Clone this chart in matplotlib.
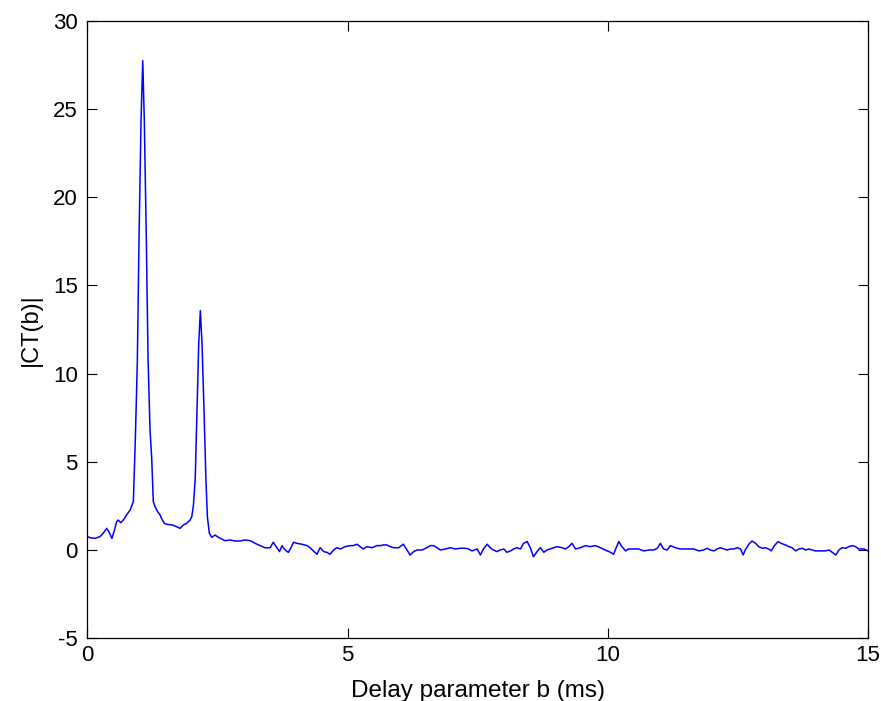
import matplotlib
matplotlib.use("Agg")
import matplotlib.pyplot as plt

# delay parameter b (ms)
b_ms = [0.00, 0.05, 0.14, 0.24, 0.30, 0.37, 0.41, 0.47, 0.52, 0.56, 0.59, 0.64, 0.69,
        0.75, 0.82, 0.881, 0.919, 0.958, 0.990, 1.029, 1.062, 1.092, 1.131, 1.163,
        1.202, 1.235, 1.265, 1.298, 1.350, 1.394, 1.438, 1.477, 1.523, 1.631, 1.715,
        1.779, 1.842, 1.908, 1.971, 2.004, 2.035, 2.071, 2.106, 2.138, 2.169, 2.202,
        2.240, 2.275, 2.304, 2.342, 2.388, 2.452, 2.515,
        2.55, 2.64, 2.74, 2.84, 2.93, 3.03, 3.13, 3.22, 3.32, 3.41, 3.51, 3.57, 3.64,
        3.69, 3.74, 3.77, 3.82, 3.86, 3.91, 3.96, 4.02, 4.12, 4.22, 4.28, 4.34, 4.41,
        4.47, 4.54, 4.60, 4.66, 4.73, 4.79, 4.86, 4.95, 5.05, 5.11, 5.18, 5.24, 5.30,
        5.37, 5.47, 5.56, 5.63, 5.69, 5.75, 5.82, 5.88, 5.98, 6.07, 6.14, 6.20, 6.27,
        6.33, 6.43, 6.52, 6.59, 6.65, 6.72, 6.78, 6.88, 6.97, 7.07, 7.16, 7.26, 7.32,
        7.39, 7.49, 7.55, 7.61, 7.68, 7.74, 7.80, 7.87, 7.93, 8.00, 8.06, 8.13, 8.19,
        8.25, 8.32, 8.38, 8.45, 8.51, 8.57, 8.64, 8.70, 8.77, 8.83, 8.93, 9.02, 9.12,
        9.18, 9.25, 9.31, 9.38, 9.47, 9.57, 9.66, 9.76, 9.86, 9.95, 10.05, 10.11,
        10.16, 10.21, 10.27, 10.34, 10.40, 10.50, 10.59, 10.69, 10.79, 10.88, 10.95,
        11.01, 11.07, 11.14, 11.20, 11.30, 11.39, 11.52, 11.65, 11.75, 11.84, 11.91,
        11.97, 12.04, 12.10, 12.16, 12.23, 12.29, 12.36, 12.42, 12.49, 12.55, 12.60,
        12.64, 12.71, 12.77, 12.84, 12.90, 12.97, 13.03, 13.09, 13.14, 13.20, 13.27,
        13.33, 13.41, 13.48, 13.54, 13.61, 13.67, 13.74, 13.80, 13.86, 13.93, 13.99,
        14.09, 14.18, 14.25, 14.31, 14.38, 14.44, 14.50, 14.57, 14.63, 14.70, 14.76,
        14.82, 14.92, 15.00]

ct_abs = [0.75, 0.69, 0.65, 0.75, 0.94, 1.22, 1.03, 0.65, 1.13, 1.60, 1.69, 1.54, 1.69,
          1.98, 2.26, 2.73, 6.23, 10.67, 17.58, 24.34, 27.75, 24.34, 17.58, 10.96,
          6.80, 5.15, 2.73, 2.45, 2.16, 1.98, 1.69, 1.51, 1.45, 1.41, 1.31,
          1.22, 1.41, 1.51, 1.69, 1.88, 2.50, 4.08, 8.13, 11.72, 13.57, 11.62,
          7.84, 4.06, 1.88, 0.94, 0.71, 0.84, 0.71,
          0.66, 0.52, 0.56, 0.50, 0.50, 0.56, 0.52, 0.37, 0.24, 0.12, 0.12, 0.43, 0.12,
          -0.10, 0.24, 0.09, -0.06, -0.14, 0.12, 0.43, 0.37, 0.32, 0.24, 0.12, -0.06, -0.25,
          0.12, -0.10, -0.14, -0.25, -0.01, 0.12, 0.05, 0.18, 0.24, 0.24, 0.32, 0.18, 0.05,
          0.18, 0.12, 0.24, 0.24, 0.28, 0.28, 0.18, 0.12, 0.12, 0.32, -0.01, -0.29, -0.10,
          -0.01, -0.01, 0.12, 0.24, 0.24, 0.12, -0.01, 0.05, 0.12, 0.05, 0.09, 0.09, 0.05,
          -0.06, 0.05, -0.29, 0.05, 0.32, 0.12, -0.01, -0.10, -0.01, 0.05, -0.14, -0.06, 0.05,
          0.12, 0.05, 0.37, 0.47, 0.12, -0.39, -0.10, 0.12, -0.14, -0.01, 0.09, 0.18, 0.12,
          0.05, 0.18, 0.37, 0.05, 0.12, 0.24, 0.18, 0.24, 0.12, -0.01, -0.14, -0.25,
          0.12, 0.47, 0.18, -0.06, 0.05, 0.05, 0.05, -0.06, -0.01, -0.01, 0.09,
          0.37, 0.05, -0.01, 0.24, 0.12, 0.05, 0.05, 0.05, -0.06, -0.01, 0.09,
          -0.01, -0.06, 0.05, 0.12, 0.05, -0.01, 0.05, 0.05, 0.12, 0.05, -0.29,
          -0.01, 0.32, 0.50, 0.37, 0.18, 0.09, 0.12, 0.05, -0.06, 0.24, 0.47,
          0.37, 0.28, 0.18, 0.12, -0.06, 0.05, 0.09, -0.01, 0.05, -0.01, -0.06,
          -0.06, -0.06, -0.01, -0.14, -0.29, -0.01, 0.12, 0.09, 0.18, 0.24, 0.18,
          0.05, 0.05, -0.06]

x_ticks = [0, 5, 10, 15]
y_ticks = [-5, 0, 5, 10, 15, 20, 25, 30]

plt.rcParams['font.family'] = ['Liberation Sans', 'DejaVu Sans']
plt.rcParams['axes.unicode_minus'] = False

fig = plt.figure(figsize=(8.81, 7.01), dpi=100)
ax = fig.add_axes([0.0993, 0.0899, 0.8860, 0.8801])

ax.plot(b_ms, ct_abs, color=(0, 0, 1), linewidth=1.1)

ax.set_xlim(0, 15)
ax.set_ylim(-5, 30)
ax.set_xticks(x_ticks)
ax.set_yticks(y_ticks)
ax.tick_params(direction='in', top=True, right=True, length=7, width=0.8,
               labelsize=16, colors='black')
ax.tick_params(axis='y', pad=7)
ax.tick_params(axis='x', pad=5)
for s in ax.spines.values():
    s.set_linewidth(0.9)
    s.set_color('black')

ax.set_xlabel('Delay parameter b (ms)', fontsize=17.5, labelpad=10)
ax.set_ylabel('|CT(b)|', fontsize=17, labelpad=8)

fig.savefig('out.png', dpi=100)
